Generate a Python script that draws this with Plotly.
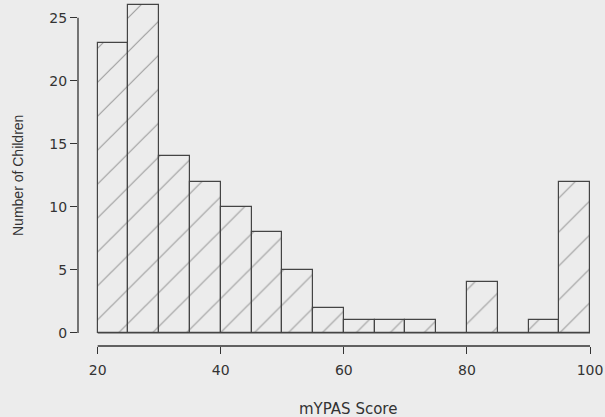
import plotly.graph_objects as go

bin_starts = [20, 25, 30, 35, 40, 45, 50, 55, 60, 65, 70, 75, 80, 85, 90, 95]
bin_width = 5
counts = [23, 26, 14, 12, 10, 8, 5, 2, 1, 1, 1, 0, 4, 0, 1, 12]
x_ticks = [20, 40, 60, 80, 100]
y_ticks = [0, 5, 10, 15, 20, 25]
x_title = "mYPAS Score"
y_title = "Number of Children"

BG = "#ececec"
INK = "#333333"
HATCH = "#505050"

centers = [s + bin_width / 2 for s in bin_starts]

fig = go.Figure()
fig.add_trace(go.Bar(
    x=centers, y=counts, width=bin_width,
    marker=dict(
        color=BG,
        line=dict(color="#444444", width=1.2),
        pattern=dict(shape="/", size=24, solidity=0.05, fgcolor=HATCH, bgcolor=BG),
    ),
    hoverinfo="skip",
))

x_lo = bin_starts[0]
x_hi = bin_starts[-1] + bin_width

shapes = [
    # zero baseline of histogram (empty bins drawn as flat lines)
    dict(type="line", xref="x", yref="y", x0=x_lo, x1=x_hi, y0=0, y1=0,
         line=dict(color="#444444", width=1.2)),
    # R-style detached x axis line
    dict(type="line", xref="x", yref="paper", x0=x_ticks[0], x1=x_ticks[-1], y0=0, y1=0,
         line=dict(color=INK, width=1.3)),
    # R-style detached y axis line
    dict(type="line", xref="paper", yref="y", x0=0, x1=0, y0=y_ticks[0], y1=y_ticks[-1],
         line=dict(color=INK, width=1.3)),
]

annotations = [
    dict(text=x_title, xref="paper", yref="paper", x=0.512, y=-0.182,
         xanchor="center", yanchor="middle", showarrow=False,
         font=dict(family="DejaVu Sans", size=15, color=INK)),
    dict(text=y_title, xref="paper", yref="paper", x=-0.114, y=0.494,
         xanchor="center", yanchor="middle", showarrow=False, textangle=-90,
         font=dict(family="Liberation Sans", size=14, color=INK)),
]

fig.update_layout(
    width=605, height=417,
    margin=dict(l=78, r=0, t=0, b=71),
    paper_bgcolor=BG, plot_bgcolor=BG,
    showlegend=False,
    bargap=0,
    shapes=shapes,
    annotations=annotations,
    xaxis=dict(
        range=[16.8, 102.43], automargin=False,
        tickmode="array", tickvals=x_ticks, ticktext=[str(v) for v in x_ticks],
        ticks="outside", ticklen=7, tickwidth=1.3, tickcolor=INK,
        ticklabelstandoff=4,
        showgrid=False, zeroline=False, showline=False,
        tickfont=dict(family="DejaVu Sans", size=14, color=INK),
    ),
    yaxis=dict(
        range=[-1.04, 26.4], automargin=False,
        tickmode="array", tickvals=y_ticks, ticktext=[str(v) for v in y_ticks],
        ticks="outside", ticklen=7, tickwidth=1.3, tickcolor=INK,
        showgrid=False, zeroline=False, showline=False,
        tickfont=dict(family="DejaVu Sans", size=14, color=INK),
    ),
)

fig.write_html(
    "out.html",
    config={"displayModeBar": False},
    post_script="document.body.style.margin='0';document.body.style.background='" + BG + "';",
)
